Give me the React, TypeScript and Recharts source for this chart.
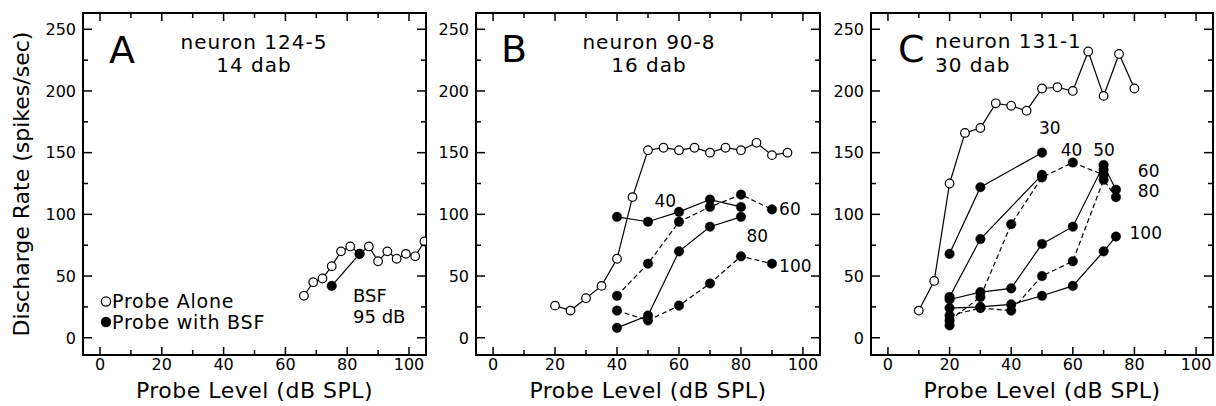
import React from 'react';
import { LineChart, Line, XAxis, YAxis, ReferenceDot } from 'recharts';

const FONT = "'DejaVu Sans', 'Liberation Sans', sans-serif";

// ---------- Panel A : neuron 124-5 ----------
const aAloneLevels = [66, 69, 72, 75, 78, 81, 84, 87, 90, 93, 96, 99, 102, 105];
const aAloneRates = [34, 45, 48, 58, 70, 74, 68, 74, 62, 70, 64, 68, 66, 78];
const aBsfLevels = [75, 84];
const aBsfRates = [42, 68];
const aNoteText = ['BSF', '95 dB'];
const aNoteLevels = [81.9, 81.9];
const aNoteRates = [29.2, 12.2];

// ---------- Panel B : neuron 90-8 ----------
const bAloneLevels = [20, 25, 30, 35, 40, 45, 50, 55, 60, 65, 70, 75, 80, 85, 90, 95];
const bAloneRates = [26, 22, 32, 42, 64, 114, 152, 154, 152, 154, 150, 154, 152, 158, 148, 150];
const b40Levels = [40, 50, 60, 70, 80];
const b40Rates = [98, 94, 102, 112, 106];
const b60Levels = [40, 50, 60, 70, 80, 90];
const b60Rates = [34, 60, 94, 106, 116, 104];
const b80Levels = [40, 50, 60, 70, 80];
const b80Rates = [8, 18, 70, 90, 98];
const b100Levels = [40, 50, 60, 70, 80, 90];
const b100Rates = [22, 14, 26, 44, 66, 60];
const bNoteText = ['40', '60', '80', '100'];
const bNoteLevels = [52.1, 92.3, 81.8, 92.3];
const bNoteRates = [106.2, 99.5, 77.8, 53.5];

// ---------- Panel C : neuron 131-1 ----------
const cAloneLevels = [10, 15, 20, 25, 30, 35, 40, 45, 50, 55, 60, 65, 70, 75, 80];
const cAloneRates = [22, 46, 125, 166, 170, 190, 188, 184, 202, 203, 200, 232, 196, 230, 202];
const c30Levels = [20, 30, 50];
const c30Rates = [68, 122, 150];
const c40Levels = [20, 30, 50];
const c40Rates = [33, 80, 132];
const c50Levels = [20, 30, 40, 50, 60, 70, 74];
const c50Rates = [31, 37, 40, 76, 90, 140, 120];
const c60Levels = [20, 30, 40, 50, 60, 70];
const c60Rates = [14, 33, 92, 130, 142, 132];
const c80Levels = [20, 30, 40, 50, 60, 70, 74];
const c80Rates = [18, 24, 22, 50, 62, 128, 114];
const c100Levels = [20, 30, 40, 50, 60, 70, 74];
const c100Rates = [24, 25, 27, 34, 42, 70, 82];
const cExtraLevels = [20, 70];
const cExtraRates = [10, 136];
const cNoteText = ['30', '40', '50', '60', '80', '100'];
const cNoteLevels = [49.0, 56.1, 66.6, 81.1, 81.1, 78.4];
const cNoteRates = [165.1, 147.5, 147.5, 130.5, 113.8, 80.0];

// ---------- Axes ----------
const xTicks = [0, 10, 20, 30, 40, 50, 60, 70, 80, 90, 100];
const yTicks = [0, 25, 50, 75, 100, 125, 150, 175, 200, 225, 250];
const X_DOMAIN: [number, number] = [-5.5, 105.5];
const Y_DOMAIN: [number, number] = [-14, 263.2];

type Pt = { x: number; y: number };
const zip = (xs: number[], ys: number[]): Pt[] => xs.map((x, i) => ({ x, y: ys[i] }));

type Kind = 'open' | 'solid' | 'dashed' | 'dots';
type Series = { data: Pt[]; kind: Kind };
type Note = { text: string; x: number; y: number };
const notes = (t: string[], xs: number[], ys: number[]): Note[] => t.map((s, i) => ({ text: s, x: xs[i], y: ys[i] }));

const frameLine = { stroke: '#000', strokeWidth: 2, strokeLinecap: 'square' as const };

function BottomTick(props: any) {
  const { x, y, payload } = props;
  const v = payload.value;
  const major = v % 20 === 0;
  return (
    <g>
      <line x1={x} x2={x} y1={y} y2={y - (major ? 8 : 5)} stroke="#000" strokeWidth={1.5} />
      {major ? (
        <text x={x} y={y + 15} textAnchor="middle" fontFamily={FONT} fontSize={16} fill="#000">
          {v}
        </text>
      ) : null}
    </g>
  );
}
function TopTick(props: any) {
  const { x, y, payload } = props;
  const major = payload.value % 20 === 0;
  return <line x1={x} x2={x} y1={y} y2={y + (major ? 8 : 5)} stroke="#000" strokeWidth={1.5} />;
}
function LeftTick(props: any) {
  const { x, y, payload } = props;
  const v = payload.value;
  const major = v % 50 === 0;
  return (
    <g>
      <line x1={x} x2={x + (major ? 9 : 5)} y1={y} y2={y} stroke="#000" strokeWidth={1.5} />
      {major ? (
        <text x={x - 7} y={y + 5.8} textAnchor="end" fontFamily={FONT} fontSize={16} fill="#000">
          {v}
        </text>
      ) : null}
    </g>
  );
}
function RightTick(props: any) {
  const { x, y, payload } = props;
  const major = payload.value % 50 === 0;
  return <line x1={x} x2={x - (major ? 9 : 5)} y1={y} y2={y} stroke="#000" strokeWidth={1.5} />;
}

function Panel(props: {
  width: number;
  margin: { top: number; right: number; bottom: number; left: number };
  series: Series[];
  notes: Note[];
  noteSize: number;
}) {
  const { width, margin, series, notes: ns, noteSize } = props;
  return (
    <LineChart width={width} height={406} margin={margin}>
      <XAxis
        xAxisId="b"
        dataKey="x"
        type="number"
        orientation="bottom"
        domain={X_DOMAIN}
        allowDataOverflow
        ticks={xTicks}
        interval={0}
        height={30}
        tickSize={0}
        tickMargin={0}
        tickLine={false}
        axisLine={frameLine}
        tick={(p: any) => <BottomTick {...p} />}
      />
      <XAxis
        xAxisId="t"
        dataKey="x"
        type="number"
        orientation="top"
        domain={X_DOMAIN}
        allowDataOverflow
        ticks={xTicks}
        interval={0}
        height={3}
        tickSize={0}
        tickMargin={0}
        tickLine={false}
        axisLine={frameLine}
        tick={(p: any) => <TopTick {...p} />}
      />
      <YAxis
        yAxisId="l"
        type="number"
        orientation="left"
        domain={Y_DOMAIN}
        allowDataOverflow
        ticks={yTicks}
        interval={0}
        width={40}
        tickSize={0}
        tickMargin={0}
        tickLine={false}
        axisLine={frameLine}
        tick={(p: any) => <LeftTick {...p} />}
      />
      <YAxis
        yAxisId="r"
        type="number"
        orientation="right"
        domain={Y_DOMAIN}
        allowDataOverflow
        ticks={yTicks}
        interval={0}
        width={3}
        tickSize={0}
        tickMargin={0}
        tickLine={false}
        axisLine={frameLine}
        tick={(p: any) => <RightTick {...p} />}
      />
      {series.map((s, i) => (
        <Line
          key={i}
          xAxisId="b"
          yAxisId="l"
          data={s.data}
          dataKey="y"
          type="linear"
          isAnimationActive={false}
          stroke={s.kind === 'dots' ? 'none' : '#000'}
          strokeWidth={1.2}
          strokeDasharray={s.kind === 'dashed' ? '5 3' : undefined}
          activeDot={false}
          dot={
            s.kind === 'open'
              ? { r: 4.3, fill: '#fff', stroke: '#000', strokeWidth: 1.2, strokeDasharray: '' }
              : { r: 4.8, fill: '#000', stroke: '#000', strokeWidth: 0.4, strokeDasharray: '' }
          }
        />
      ))}
      {ns.map((n, i) => (
        <ReferenceDot
          key={'n' + i}
          xAxisId="b"
          yAxisId="l"
          x={n.x}
          y={n.y}
          r={0}
          ifOverflow="visible"
          shape={(p: any) => (
            <text x={p.cx} y={p.cy} fontFamily={FONT} fontSize={noteSize} fill="#000">
              {n.text}
            </text>
          )}
        />
      ))}
    </LineChart>
  );
}

const seriesA: Series[] = [
  { data: zip(aAloneLevels, aAloneRates), kind: 'open' },
  { data: zip(aBsfLevels, aBsfRates), kind: 'solid' },
];
const seriesB: Series[] = [
  { data: zip(bAloneLevels, bAloneRates), kind: 'open' },
  { data: zip(b40Levels, b40Rates), kind: 'solid' },
  { data: zip(b60Levels, b60Rates), kind: 'dashed' },
  { data: zip(b80Levels, b80Rates), kind: 'solid' },
  { data: zip(b100Levels, b100Rates), kind: 'dashed' },
];
const seriesC: Series[] = [
  { data: zip(cAloneLevels, cAloneRates), kind: 'open' },
  { data: zip(c30Levels, c30Rates), kind: 'solid' },
  { data: zip(c40Levels, c40Rates), kind: 'solid' },
  { data: zip(c50Levels, c50Rates), kind: 'solid' },
  { data: zip(c60Levels, c60Rates), kind: 'dashed' },
  { data: zip(c80Levels, c80Rates), kind: 'dashed' },
  { data: zip(c100Levels, c100Rates), kind: 'solid' },
  { data: zip(cExtraLevels, cExtraRates), kind: 'dots' },
];

const txt = { fontFamily: FONT, fill: '#000' };

export default function App() {
  return (
    <div style={{ position: 'absolute', left: 0, top: 0, width: 1216, height: 406, background: '#fff', overflow: 'hidden' }}>
      <div style={{ position: 'absolute', left: 0, top: 0 }}>
        <Panel width={430} margin={{ top: 10, right: 1, bottom: 21, left: 43 }} series={seriesA} notes={notes(aNoteText, aNoteLevels, aNoteRates)} noteSize={18} />
      </div>
      <div style={{ position: 'absolute', left: 430, top: 0 }}>
        <Panel width={394} margin={{ top: 10, right: 1, bottom: 21, left: 6 }} series={seriesB} notes={notes(bNoteText, bNoteLevels, bNoteRates)} noteSize={17} />
      </div>
      <div style={{ position: 'absolute', left: 824, top: 0 }}>
        <Panel width={392} margin={{ top: 10, right: 0, bottom: 21, left: 7 }} series={seriesC} notes={notes(cNoteText, cNoteLevels, cNoteRates)} noteSize={17} />
      </div>
      <svg width={1216} height={406} style={{ position: 'absolute', left: 0, top: 0, pointerEvents: 'none' }}>
        {/* axis titles */}
        <text transform="translate(29,184) rotate(-90)" textAnchor="middle" fontSize={22} {...txt}>
          Discharge Rate (spikes/sec)
        </text>
        <text x={254.5} y={398} textAnchor="middle" fontSize={22} letterSpacing={0.5} {...txt}>Probe Level (dB SPL)</text>
        <text x={648} y={398} textAnchor="middle" fontSize={22} letterSpacing={0.5} {...txt}>Probe Level (dB SPL)</text>
        <text x={1042} y={398} textAnchor="middle" fontSize={22} letterSpacing={0.5} {...txt}>Probe Level (dB SPL)</text>
        {/* panel letters */}
        <text x={109} y={62.5} fontSize={38} {...txt}>A</text>
        <text x={501} y={62.3} fontSize={38} {...txt}>B</text>
        <text x={898} y={61.7} fontSize={38} {...txt}>C</text>
        {/* neuron captions */}
        <text x={254} y={49} textAnchor="middle" fontSize={20} letterSpacing={1} {...txt}>neuron 124-5</text>
        <text x={254} y={72} textAnchor="middle" fontSize={20} letterSpacing={1} {...txt}>14 dab</text>
        <text x={649} y={49} textAnchor="middle" fontSize={20} letterSpacing={1} {...txt}>neuron 90-8</text>
        <text x={649} y={72} textAnchor="middle" fontSize={20} letterSpacing={1} {...txt}>16 dab</text>
        <text x={935} y={48} fontSize={20} letterSpacing={1} {...txt}>neuron 131-1</text>
        <text x={935} y={72} fontSize={20} letterSpacing={1} {...txt}>30 dab</text>
        {/* legend */}
        <circle cx={106} cy={301.5} r={4.6} fill="#fff" stroke="#000" strokeWidth={1.3} />
        <text x={112} y={308} fontSize={19} letterSpacing={0.8} {...txt}>Probe Alone</text>
        <circle cx={106} cy={322} r={5.2} fill="#000" />
        <text x={112} y={328.5} fontSize={19} letterSpacing={0.8} {...txt}>Probe with BSF</text>
      </svg>
    </div>
  );
}
